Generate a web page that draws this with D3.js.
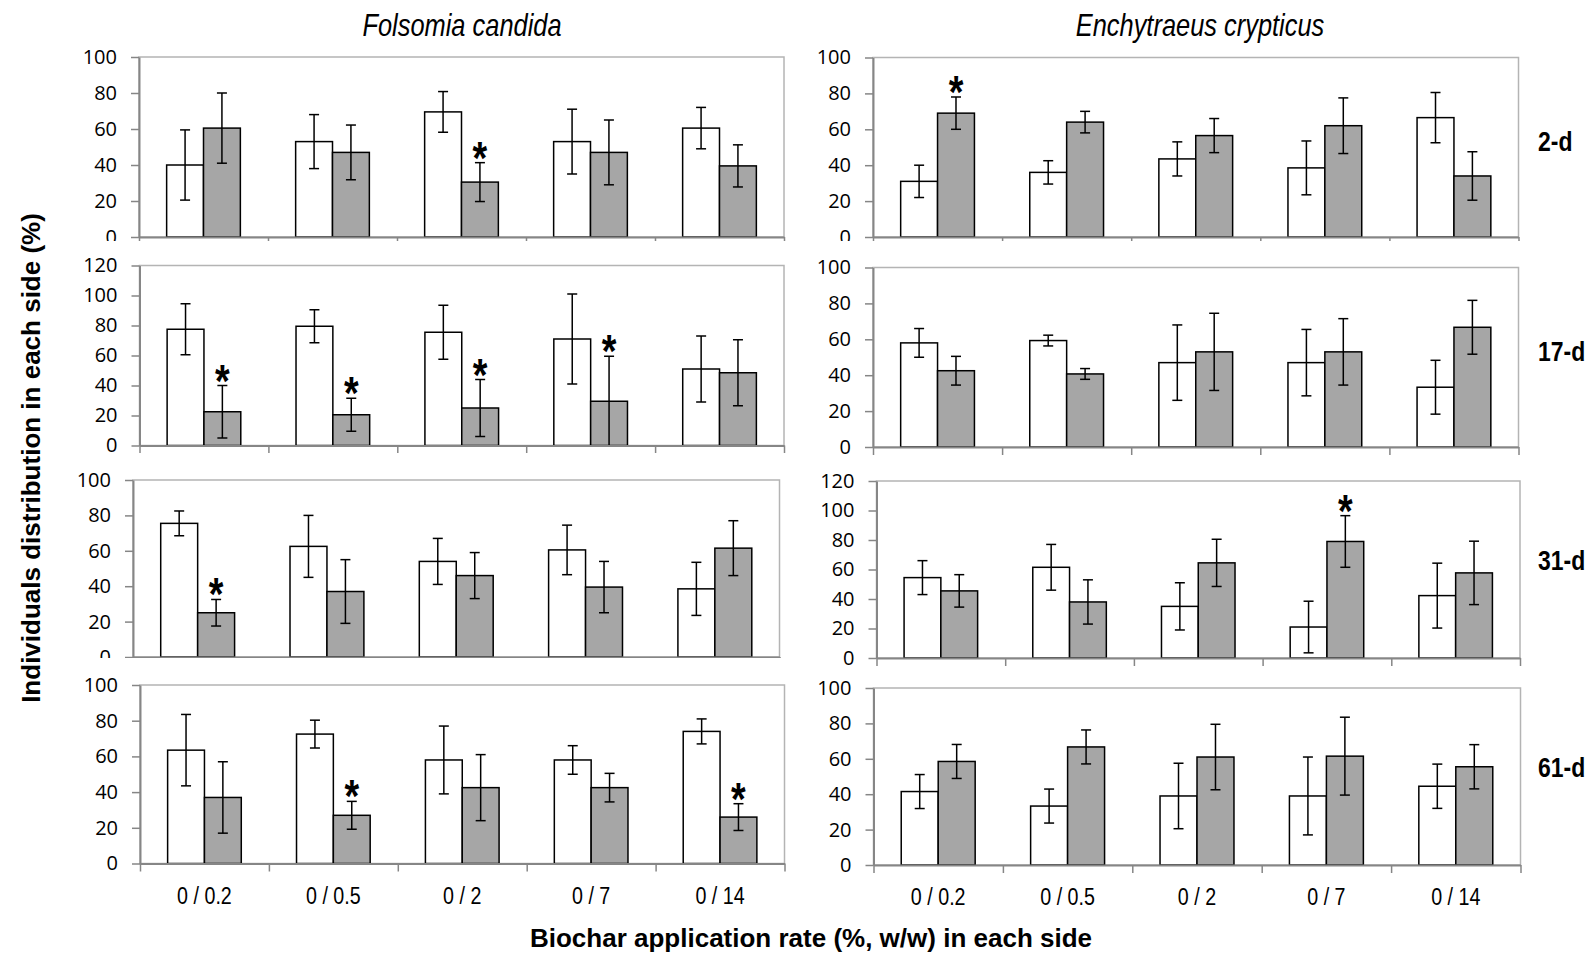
<!DOCTYPE html>
<html>
<head>
<meta charset="utf-8">
<script src="https://cdn.jsdelivr.net/npm/d3@7"></script>
<style>
  body { margin: 0; background: #fff; }
  svg { display: block; }
</style>
</head>
<body>
<script>
// categories on the x axis and the four sampling days
var categories = ["0 / 0.2", "0 / 0.5", "0 / 2", "0 / 7", "0 / 14"];
var days = ["2-d", "17-d", "31-d", "61-d"];
var species = ["Folsomia candida", "Enchytraeus crypticus"];

// Folsomia candida: % individuals in control side (white) and biochar side (grey), one row per day
var fcControl = [
    [40, 53, 69.5, 53, 60.5],
    [77.5, 79.5, 75.5, 71, 51],
    [75.5, 62.5, 54, 60.5, 38.5],
    [63.5, 72.5, 58, 58, 74]
];
var fcControlErr = [
    [19.5, 15, 11.3, 18, 11.5],
    [17, 11, 18, 30, 22],
    [7, 17.5, 13, 14, 15],
    [20, 7.8, 19, 8, 7]
];
var fcBiochar = [
    [60.5, 47, 30.5, 47, 39.5],
    [22.5, 20.5, 25, 29.5, 48.5],
    [25, 37, 46, 39.5, 61.5],
    [37, 27, 42.5, 42.5, 26]
];
var fcBiocharErr = [
    [19.5, 15.2, 10.8, 18, 11.7],
    [17.5, 11, 19, 30, 22],
    [7.5, 18, 13, 14.5, 15.5],
    [20, 7.8, 18.5, 8, 7.5]
];
var fcSignif = [
    [0, 0, 1, 0, 0],
    [1, 1, 1, 1, 0],
    [1, 0, 0, 0, 0],
    [0, 1, 0, 0, 1]
];
var fcMax = [100, 120, 100, 100];

// Enchytraeus crypticus
var ecControl = [
    [31, 36, 43.5, 38.5, 66.5],
    [58, 59.3, 47, 47, 33.3],
    [54.5, 61.5, 35, 21, 42.3],
    [41.5, 33.3, 39, 39, 44.5]
];
var ecControlErr = [
    [9, 6.5, 9.5, 15, 14],
    [8, 3, 21, 18.5, 15],
    [11.5, 15.5, 16, 17.5, 22],
    [9.6, 9.6, 18.5, 22, 12.5]
];
var ecBiochar = [
    [69, 64, 56.5, 62, 34],
    [42.5, 40.7, 53, 53, 66.7],
    [45.5, 38, 64.5, 79, 57.7],
    [58.5, 66.7, 61, 61.5, 55.5]
];
var ecBiocharErr = [
    [9, 6, 9.5, 15.5, 13.5],
    [8, 3, 21.5, 18.5, 15],
    [11, 15, 16, 17.5, 21.5],
    [9.6, 9.6, 18.5, 22, 12.5]
];
var ecSignif = [
    [1, 0, 0, 0, 0],
    [0, 0, 0, 0, 0],
    [0, 0, 0, 1, 0],
    [0, 0, 0, 0, 0]
];
var ecMax = [100, 100, 120, 100];

var W = 1593, H = 966,
    sans = '"Liberation Sans", Arial, sans-serif',
    tickFont = '"Open Sans", Lato, sans-serif',
    axisColor = "#868686",
    frameColor = "#b4b4b4",
    greyFill = "#a6a6a6",
    squeeze = 0.82; // no Arial Narrow here, so Liberation Sans is squeezed horizontally

// plot area of each small chart (they were pasted by hand, so not perfectly aligned)
var boxes = [
    [ // left column
        {x0: 139, x1: 784, top: 57, bot: 237, clip: 0},
        {x0: 139.5, x1: 784, top: 265.5, bot: 445.5, clip: 241},
        {x0: 133, x1: 779.5, top: 480, bot: 657, clip: 453},
        {x0: 140, x1: 784.5, top: 685, bot: 863.5, clip: 658}
    ],
    [ // right column
        {x0: 873, x1: 1518.5, top: 57.5, bot: 237, clip: 0},
        {x0: 873, x1: 1518.5, top: 267.5, bot: 447, clip: 241},
        {x0: 876.5, x1: 1520, top: 481, bot: 658, clip: 455},
        {x0: 873.5, x1: 1520.5, top: 688, bot: 865, clip: 666}
    ]
];

var svg = d3.select("body").append("svg")
    .attr("width", W)
    .attr("height", H)
    .style("font-family", sans);

// narrow text: put the text at (x, y) and squeeze it horizontally
function narrowAt(x, y) {
    return "translate(" + x + "," + y + ") scale(" + squeeze + ",1)";
}

function drawPanel(col, row, ctrl, ctrlErr, bio, bioErr, signif, yMax) {
    var b = boxes[col][row];
    var g = svg.append("g");

    // white chart background (covers the label bits of the chart above, like in the original)
    if (b.clip > 0) {
        g.append("rect")
            .attr("x", col === 0 ? 60 : 798)
            .attr("y", b.clip)
            .attr("width", col === 0 ? 735 : 732)
            .attr("height", b.bot + 20 - b.clip)
            .attr("fill", "#fff");
    }

    var x = d3.scaleBand().domain(categories).range([b.x0, b.x1]).padding(0);
    var side = d3.scaleBand().domain(["control", "biochar"])
        .range([0, x.bandwidth()]).paddingInner(0).paddingOuter(0.75);
    var y = d3.scaleLinear().domain([0, yMax]).range([b.bot, b.top]);
    var xEdge = d3.scaleLinear().domain([0, categories.length]).range([b.x0, b.x1]);

    var flat = d3.merge(categories.map(function (c, i) {
        return [
            {cat: c, side: "control", v: ctrl[i], e: ctrlErr[i], star: 0},
            {cat: c, side: "biochar", v: bio[i], e: bioErr[i], star: signif[i]}
        ];
    }));

    // plot area frame
    g.append("rect")
        .attr("x", b.x0).attr("y", b.top)
        .attr("width", b.x1 - b.x0).attr("height", b.bot - b.top)
        .attr("fill", "none")
        .attr("stroke", frameColor)
        .attr("stroke-width", 1.5);

    g.selectAll(".bar")
        .data(flat)
        .enter().append("rect")
        .attr("class", "bar")
        .attr("x", function (d) { return x(d.cat) + side(d.side); })
        .attr("y", function (d) { return y(d.v); })
        .attr("width", side.bandwidth())
        .attr("height", function (d) { return b.bot - y(d.v); })
        .attr("fill", function (d) { return d.side === "control" ? "#fff" : greyFill; })
        .attr("stroke", "#000")
        .attr("stroke-width", 1.5);

    // error bars
    var cx = function (d) { return x(d.cat) + side(d.side) + side.bandwidth() / 2; };
    var err = g.selectAll(".err")
        .data(flat)
        .enter().append("g")
        .attr("class", "err")
        .attr("stroke", "#000")
        .attr("stroke-width", 1.5);
    err.append("line")
        .attr("x1", cx).attr("x2", cx)
        .attr("y1", function (d) { return y(d.v + d.e); })
        .attr("y2", function (d) { return y(d.v - d.e); });
    err.append("line")
        .attr("x1", function (d) { return cx(d) - 5; })
        .attr("x2", function (d) { return cx(d) + 5; })
        .attr("y1", function (d) { return y(d.v + d.e); })
        .attr("y2", function (d) { return y(d.v + d.e); });
    err.append("line")
        .attr("x1", function (d) { return cx(d) - 5; })
        .attr("x2", function (d) { return cx(d) + 5; })
        .attr("y1", function (d) { return y(d.v - d.e); })
        .attr("y2", function (d) { return y(d.v - d.e); });

    // significance stars, centred about 16px above the error bar
    g.selectAll(".star")
        .data(flat.filter(function (d) { return d.star; }))
        .enter().append("text")
        .attr("class", "star")
        .attr("transform", function (d) { return narrowAt(cx(d), y(d.v + d.e) - 16 + 27); })
        .attr("text-anchor", "middle")
        .style("font-weight", "bold")
        .style("font-size", "46px")
        .text("*");

    // y axis
    var yAxis = g.append("g")
        .attr("transform", "translate(" + b.x0 + ",0)")
        .call(d3.axisLeft(y)
            .tickValues(d3.range(0, yMax + 1, 20))
            .tickSize(8)
            .tickSizeOuter(0)
            .tickPadding(14));

    // x axis: ticks at the category boundaries
    var xAxis = g.append("g")
        .attr("transform", "translate(0," + b.bot + ")")
        .call(d3.axisBottom(xEdge)
            .tickValues(d3.range(categories.length + 1))
            .tickFormat("")
            .tickSize(8)
            .tickSizeOuter(0));

    [yAxis, xAxis].forEach(function (a) {
        a.select(".domain").attr("stroke", axisColor).attr("stroke-width", 2);
        a.selectAll(".tick line").attr("stroke", axisColor).attr("stroke-width", 1.5);
    });
    yAxis.selectAll(".tick text")
        .attr("fill", "#000")
        .style("font-family", tickFont)
        .style("font-size", "20px");

    if (row === days.length - 1) {
        g.selectAll(".cat")
            .data(categories)
            .enter().append("text")
            .attr("class", "cat")
            .attr("transform", function (c) { return narrowAt(x(c) + x.bandwidth() / 2, b.bot + 40); })
            .attr("text-anchor", "middle")
            .style("font-size", "24px")
            .text(function (c) { return c; });
    }
}

for (var r = 0; r < days.length; r++) {
    drawPanel(0, r, fcControl[r], fcControlErr[r], fcBiochar[r], fcBiocharErr[r], fcSignif[r], fcMax[r]);
    drawPanel(1, r, ecControl[r], ecControlErr[r], ecBiochar[r], ecBiocharErr[r], ecSignif[r], ecMax[r]);
}

// day labels on the right
svg.selectAll(".day")
    .data(days)
    .enter().append("text")
    .attr("class", "day")
    .attr("transform", function (d, i) {
        var b = boxes[1][i];
        return narrowAt(1538, (b.top + b.bot) / 2 + (i < 2 ? 4 : 0));
    })
    .style("font-weight", "bold")
    .style("font-size", "28px")
    .text(function (d) { return d; });

// species titles
svg.selectAll(".species")
    .data(species)
    .enter().append("text")
    .attr("class", "species")
    .attr("transform", function (d, i) { return narrowAt(i === 0 ? 462 : 1200, 36); })
    .attr("text-anchor", "middle")
    .style("font-style", "italic")
    .style("font-size", "31px")
    .text(function (d) { return d; });

// axis titles
svg.append("text")
    .attr("x", 811)
    .attr("y", 947)
    .attr("text-anchor", "middle")
    .style("font-weight", "bold")
    .style("font-size", "26px")
    .text("Biochar application rate (%, w/w) in each side");

svg.append("text")
    .attr("transform", "translate(40,458) rotate(-90)")
    .attr("text-anchor", "middle")
    .style("font-weight", "bold")
    .style("font-size", "26px")
    .text("Individuals distribution in each side (%)");
</script>
</body>
</html>
